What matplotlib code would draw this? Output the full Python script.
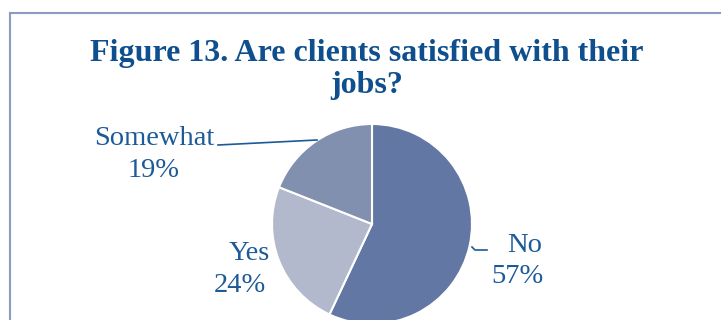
import matplotlib.pyplot as plt
from matplotlib.lines import Line2D

labels = ["No", "Yes", "Somewhat"]
shares = [57, 24, 19]
colors = ["#6277a3", "#b3b9cc", "#8290b0"]

title_color = "#0f4f8e"
label_color = "#1c5a98"
serif = "Liberation Serif"

W, H = 721, 320
fig = plt.figure(figsize=(W / 100, H / 100), dpi=100)
ax = fig.add_axes([0, 0, 1, 1])
ax.axis("off")

# pie in pixel units, y measured from the bottom
cx, cy, r = 372, H - 224, 100
ax.pie(shares, colors=colors, startangle=90, counterclock=False,
       center=(cx, cy), radius=r,
       wedgeprops=dict(edgecolor="white", linewidth=1.5))
ax.set_xlim(0, W)
ax.set_ylim(0, H)

# chart frame (left and top edges visible)
fig.add_artist(Line2D([10 / W, 10 / W], [0, 1 - 12.5 / H], color="#8c9cc0", lw=1.5))
fig.add_artist(Line2D([10 / W, 1], [1 - 12.5 / H, 1 - 12.5 / H], color="#8c9cc0", lw=1.5))

ttl = dict(ha="center", va="baseline", fontsize=23, fontweight="bold",
           family=serif, color=title_color)
fig.text(367 / W, 1 - 61 / H, "Figure 13. Are clients satisfied with their", **ttl)
fig.text(367 / W, 1 - 93 / H, "jobs?", **ttl)

# data labels: name on the first line, share on the second
lab = dict(zip(labels, shares))
spots = {
    "Somewhat": ((154, 145), (154, 177)),
    "Yes": ((249, 260), (240, 292)),
    "No": ((525, 252), (517, 283)),
}
txt = dict(fontsize=20.5, family=serif, color=label_color, ha="center", va="baseline")
for name in labels:
    (x1, y1), (x2, y2) = spots[name]
    ax.text(x1, H - y1, name, **txt)
    ax.text(x2, H - y2, f"{lab[name]}%", **txt)

# leader lines
ax.plot([218, 317], [H - 145, H - 140], color=label_color, lw=1.2)
ax.plot([472, 475, 487], [H - 247, H - 250, H - 250], color=label_color, lw=1.2)

fig.savefig("out.png", dpi=100)
